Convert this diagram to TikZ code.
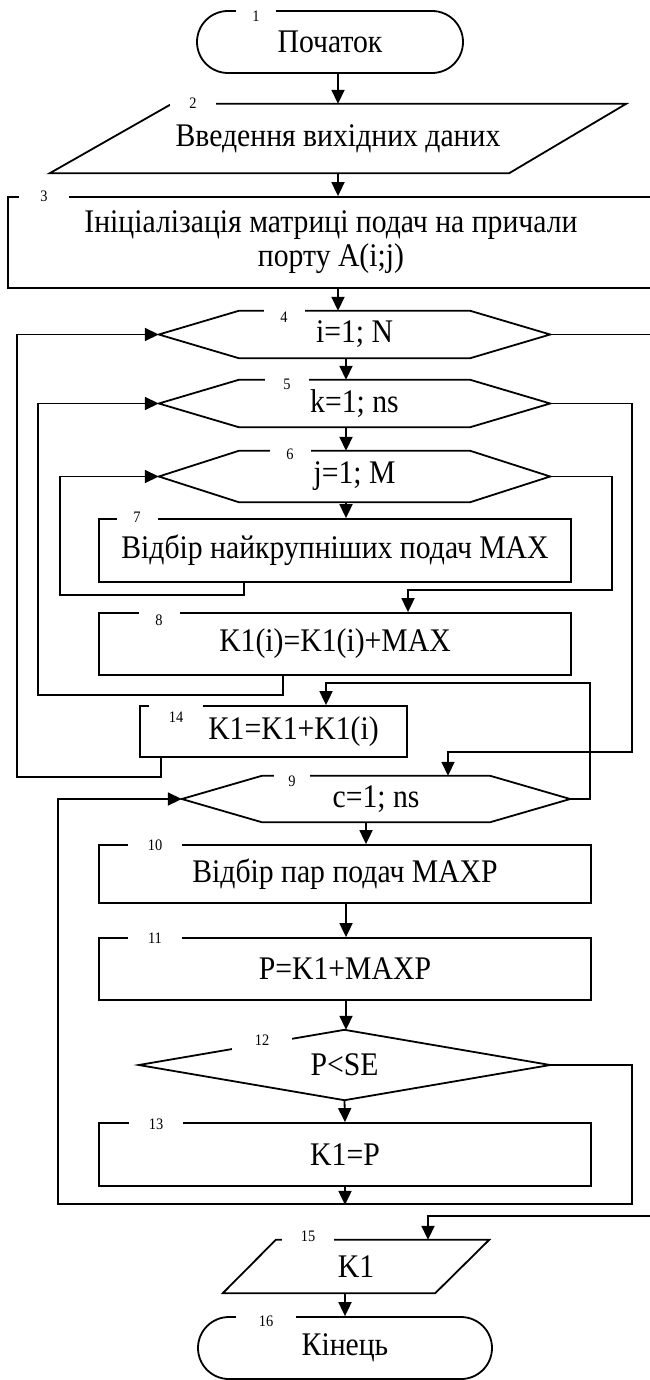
\documentclass[tikz,border=0pt]{standalone}
\usepackage{fontspec}
\setmainfont{Liberation Serif}[FakeStretch=0.9]
\usetikzlibrary{arrows.meta,shapes.misc}

\tikzset{
  wire/.style={line width=1.8pt},
  flow/.style={wire, -{Triangle[length=14pt,width=13pt]}},
  txt/.style={inner sep=0pt, align=center, font=\fontsize{33}{34}\selectfont},
  box/.style={txt, draw, wire},
  term/.style={txt, draw, wire, rounded rectangle},
  num/.style={fill=white, inner sep=0pt, minimum width=44pt, minimum height=18pt,
    font=\fontsize{16}{16}\selectfont},
}
% outline of a loop block (hexagon) round a node
\newcommand{\hexout}[1]{%
  \draw[wire] (#1.west) -- ([xshift=80]#1.north west) -- ([xshift=-80]#1.north east)
    -- (#1.east) -- ([xshift=-80]#1.south east) -- ([xshift=80]#1.south west) -- cycle;}

\begin{document}
\begin{tikzpicture}[x=1pt, y=-1pt]
  \useasboundingbox (0,0) rectangle (649,1380);
  \coordinate (spineA) at (338,0);
  \coordinate (spineB) at (346,0);

  %% blocks
  \node[term, minimum width=266pt, minimum height=62pt] (n1) at (330,42) {Початок};
  \node[txt, minimum width=576pt, minimum height=69pt] (n2) at (338,138.5) {Введення вихідних даних};
  \draw[wire] ([xshift=122]n2.north west) -- (n2.north east)
    -- ([xshift=-117]n2.south east) -- (n2.south west) -- cycle;
  \node[box, minimum width=646pt, minimum height=91pt] (n3) at (331,242.5)
    {Ініціалізація матриці подач на причали\\порту A(i;j)};
  \node[txt, minimum width=391pt, minimum height=47pt] (n4) at (354.5,334.5) {i=1; N};
  \hexout{n4}
  \node[txt, minimum width=391pt, minimum height=47pt] (n5) at (354.5,403.5) {k=1; ns};
  \hexout{n5}
  \node[txt, minimum width=391pt, minimum height=51pt] (n6) at (354.5,476.5) {j=1; M};
  \hexout{n6}
  \node[box, minimum width=472pt, minimum height=63pt] (n7) at (335,550.5) {Відбір найкрупніших подач MAX};
  \node[box, minimum width=472pt, minimum height=62pt] (n8) at (335,644) {K1(i)=K1(i)+MAX};
  \node[box, minimum width=267pt, minimum height=51pt] (n14) at (273.5,731.5) {\hspace*{40pt}K1=K1+K1(i)};
  \node[txt, minimum width=388pt, minimum height=46pt] (n9) at (376,799) {c=1; ns};
  \hexout{n9}
  \node[box, minimum width=492pt, minimum height=58pt] (n10) at (345,874) {Відбір пар подач MAXP};
  \node[box, minimum width=492pt, minimum height=62pt] (n11) at (345,969) {P=K1+MAXP};
  \node[txt, minimum width=411pt, minimum height=70pt] (n12) at (344.5,1065) {P<SE};
  \draw[wire] (n12.west) -- (n12.north) -- (n12.east) -- (n12.south) -- cycle;
  \node[box, minimum width=492pt, minimum height=63pt] (n13) at (345,1154.5) {K1=P};
  \node[txt, minimum width=266pt, minimum height=53pt] (n15) at (356,1266.5) {K1};
  \draw[wire] ([xshift=53]n15.north west) -- (n15.north east)
    -- ([xshift=-54]n15.south east) -- (n15.south west) -- cycle;
  \node[term, minimum width=294pt, minimum height=62pt] (n16) at (345,1348) {Кінець};

  %% straight flow
  \draw[flow] (n1.south -| spineA) -- (n2.north -| spineA);
  \draw[flow] (n2.south -| spineA) -- (n3.north -| spineA);
  \draw[flow] (n3.south -| spineA) -- (n4.north -| spineA);
  \draw[flow] (n4.south -| spineB) -- (n5.north -| spineB);
  \draw[flow] (n5.south -| spineB) -- (n6.north -| spineB);
  \draw[flow] (n6.south -| spineB) -- (n7.north -| spineB);
  \draw[flow] ([xshift=-10]n9.south) -- ([xshift=-10]n9.south |- n10.north);
  \draw[flow] (n10.south -| spineB) -- (n11.north -| spineB);
  \draw[flow] (n11.south -| spineB) -- (n12.north -| spineB);
  \draw[flow] (n12.south) -- (n13.north);
  \draw[flow] (n13.south) -- ++(0,18);
  \draw[flow] (n15.south -| n16.north) -- (n16.north);

  %% loop returns
  \draw[flow] ([xshift=-91]n7.south) -- ++(0,12) -| ([xshift=-99]n6.west) -- (n6.west);
  \draw[flow] ([xshift=-52]n8.south) -- ++(0,19) -| ([xshift=-121]n5.west) -- (n5.west);
  \draw[flow] ([xshift=-112.5]n14.south) -- ++(0,19) -| ([xshift=-142]n4.west) -- (n4.west);
  \draw[flow] (n12.east) -- ++(82,0) -- ++(0,139) -| ([xshift=-124]n9.west) -- (n9.west);

  %% loop exits
  \draw[flow] (n6.east) -- ++(62,0) -- ++(0,113.5) -| ([xshift=73]n8.north);
  \draw[flow] (n5.east) -- ++(82,0) -- ++(0,348.5) -| ([xshift=72]n9.north);
  \draw[flow] (n9.east) -- ++(20,0) -- ++(0,-116) -| ([xshift=52.5]n14.north);
  \draw[flow] (n4.east) -- ++(110,0) -- ++(0,881.5) -| ([xshift=72]n15.north);

  %% block numbers
  \node[num, minimum width=40pt] (m1) at (256,16) {1};
  \node[num, minimum width=46pt] (m2) at (193,103) {2};
  \node[num, minimum width=50pt] (m3) at (44,196) {3};
  \node[num, minimum width=41pt] (m4) at (284,317) {4};
  \node[num] (m5) at (287,384) {5};
  \node[num, minimum width=41pt] (m6) at (290,454) {6};
  \node[num, minimum width=41pt] (m7) at (137,517) {7};
  \node[num, minimum width=41pt] (m8) at (159,620) {8};
  \node[num, minimum width=54pt, minimum height=26pt] (m14) at (176,717) {14};
  \node[num, minimum width=36pt] (m9) at (292,781) {9};
  \node[num, minimum width=54pt] (m10) at (155,845) {10};
  \node[num, minimum width=54pt] (m11) at (155,938) {11};
  \node[num, minimum width=60pt, minimum height=24pt] (m12) at (262,1040) {12};
  \node[num, minimum width=54pt] (m13) at (156,1124) {13};
  \node[num, minimum width=52pt] (m15) at (308,1236) {15};
  \node[num, minimum width=60pt] (m16) at (266,1321) {16};
\end{tikzpicture}
\end{document}
